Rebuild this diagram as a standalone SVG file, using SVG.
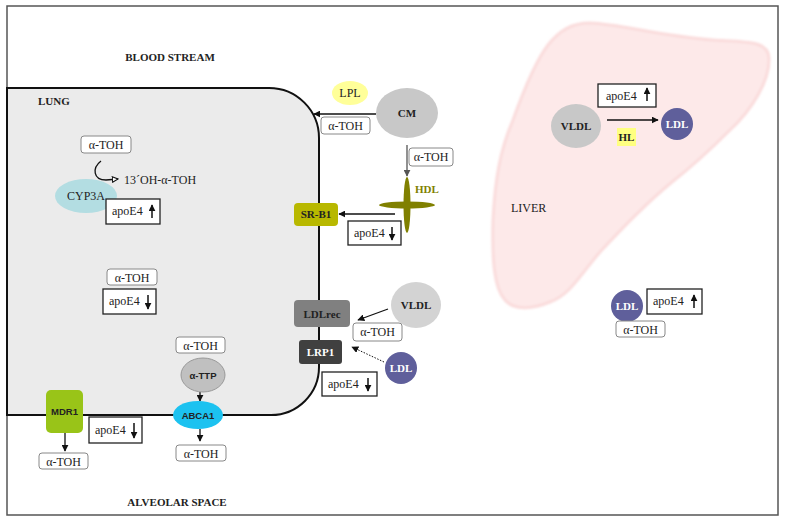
<svg xmlns="http://www.w3.org/2000/svg" width="785" height="520" viewBox="0 0 785 520">
<defs>
<style>
.t{font-family:"Liberation Serif","Times New Roman",serif;font-size:12px;fill:#222}
.b{font-family:"Liberation Serif","Times New Roman",serif;font-weight:bold;font-size:11px;fill:#222}
.s{font-family:"Liberation Sans",Arial,sans-serif;font-weight:bold;font-size:9.5px;fill:#222}
.tb{fill:#fff;stroke:#888;stroke-width:1;rx:3}
.ab{fill:#fff;stroke:#222;stroke-width:1.3}
.ln{stroke:#111;stroke-width:1.3;fill:none}
.up{stroke:#111;stroke-width:1.5;fill:none}
</style>
<marker id="ah" viewBox="0 0 10 10" refX="9" refY="5" markerWidth="7" markerHeight="7" orient="auto" markerUnits="userSpaceOnUse"><path d="M0,0 L10,5 L0,10 Z" fill="#111"/></marker>
<marker id="ahg" viewBox="0 0 10 10" refX="9" refY="5" markerWidth="7" markerHeight="7" orient="auto" markerUnits="userSpaceOnUse"><path d="M0,0 L10,5 L0,10 Z" fill="#555"/></marker>
<marker id="aho" viewBox="0 0 10 10" refX="9" refY="5" markerWidth="7" markerHeight="7" orient="auto" markerUnits="userSpaceOnUse"><path d="M1,1 L9,5 L1,9 Z" fill="#fff" stroke="#111" stroke-width="1.5"/></marker>
<marker id="sm" viewBox="0 0 10 10" refX="9" refY="5" markerWidth="7" markerHeight="7" orient="auto" markerUnits="userSpaceOnUse"><path d="M0,0 L10,5 L0,10 Z" fill="#111"/></marker>
<filter id="soft" x="-5%" y="-5%" width="110%" height="110%"><feGaussianBlur stdDeviation="1.2"/></filter>
</defs>

<rect x="0" y="0" width="785" height="520" fill="#fff"/>
<rect x="7" y="6" width="771" height="509" fill="#fff" stroke="#555" stroke-width="1.5"/>

<g id="liver">
<path d="M 590 23 C 620 24, 660 36, 713 40 C 745 42, 768 40, 769 58 C 770 80, 752 110, 730 130 C 710 150, 690 168, 672 182 C 650 200, 625 225, 600 252 C 580 275, 570 295, 550 302 C 535 308, 515 312, 505 300 C 494 288, 492 260, 493 220 C 495 180, 500 150, 513 120 C 522 95, 535 62, 548 45 C 560 30, 572 23, 590 23 Z" fill="#fde9e9" stroke="#fadcdc" stroke-width="3" filter="url(#soft)"/>
<text class="t" x="511" y="212">LIVER</text>
</g>

<g id="lung">
<path d="M 7 88 L 269 88 A 50 50 0 0 1 319 138 L 319 367 A 48 48 0 0 1 271 415 L 7 415 Z" fill="#ebebeb" stroke="#111" stroke-width="2"/>
<text class="b" x="38" y="105" font-size="12">LUNG</text>
</g>

<text class="b" x="170" y="61" text-anchor="middle" font-size="12">BLOOD STREAM</text>
<text class="b" x="177" y="506" text-anchor="middle" font-size="12">ALVEOLAR SPACE</text>

<g id="connectors">
<line class="ln" x1="376" y1="114" x2="314" y2="114" marker-end="url(#ah)"/>
<line x1="407" y1="145" x2="407" y2="176" stroke="#555" stroke-width="1.3" marker-end="url(#ahg)"/>
<line class="ln" x1="395" y1="214" x2="339" y2="214" marker-end="url(#ah)"/>
<line class="ln" x1="388" y1="309" x2="358" y2="320" marker-end="url(#ah)"/>
<line x1="384" y1="362" x2="352" y2="347" stroke="#111" stroke-width="1" stroke-dasharray="1.5 1.5" marker-end="url(#ah)"/>
<line class="ln" x1="200" y1="392" x2="200" y2="401" marker-end="url(#ah)"/>
<line class="ln" x1="200" y1="429" x2="200" y2="441" marker-end="url(#ah)"/>
<line class="ln" x1="65" y1="433" x2="65" y2="451" marker-end="url(#ah)"/>
<line class="ln" x1="607" y1="120" x2="658" y2="120" marker-end="url(#ah)"/>
<path class="ln" d="M 101 161 C 92 168, 93 180, 106 180 L 118 179" marker-end="url(#aho)"/>
</g>

<g id="lpl"><ellipse cx="350" cy="93" rx="18" ry="12" fill="#ffff99"/><text class="t" x="350" y="97" text-anchor="middle">LPL</text></g>
<g id="cm"><ellipse cx="407" cy="113" rx="31" ry="25" fill="#c8c8c8"/><text class="b" x="407" y="117" text-anchor="middle" font-size="12.5">CM</text></g>
<g id="atoh-cm"><rect class="tb" x="321" y="117" width="49" height="17"/><text class="t" x="345.5" y="130" text-anchor="middle">α-TOH</text></g>
<g id="atoh-hdl"><rect class="tb" x="409" y="148" width="44" height="18"/><text class="t" x="431" y="161" text-anchor="middle">α-TOH</text></g>
<g id="hdl">
<ellipse cx="407" cy="205" rx="28" ry="3.5" fill="#808000"/>
<ellipse cx="407" cy="205" rx="3.5" ry="28" fill="#808000"/>
<text class="b" x="415" y="193" style="fill:#808000" font-size="12">HDL</text>
</g>
<g id="srb1"><rect x="294" y="203" width="44" height="23" rx="4" fill="#b8b800"/><text class="b" x="316" y="218" text-anchor="middle">SR-B1</text></g>
<g id="apoe4-hdl"><rect class="ab" x="348" y="221" width="53" height="24"/><text class="t" x="354" y="237">apoE4</text><line class="up" x1="392" y1="227" x2="392" y2="240" marker-end="url(#sm)"/></g>

<g id="atoh-lung1"><rect class="tb" x="81" y="136" width="50" height="17"/><text class="t" x="106" y="149" text-anchor="middle">α-TOH</text></g>
<text class="t" x="124" y="184">13´OH-α-TOH</text>
<g id="cyp3a"><ellipse cx="86" cy="196" rx="31" ry="17" fill="#b3dde2"/><text class="t" x="86" y="200" text-anchor="middle">CYP3A</text></g>
<g id="apoe4-cyp"><rect class="ab" x="106" y="199" width="54" height="25"/><text class="t" x="112" y="215">apoE4</text><line class="up" x1="152" y1="218" x2="152" y2="205" marker-end="url(#sm)"/></g>

<g id="atoh-lung2"><rect class="tb" x="107" y="269" width="50" height="16"/><text class="t" x="132" y="281.5" text-anchor="middle">α-TOH</text></g>
<g id="apoe4-lung"><rect class="ab" x="103" y="289" width="53" height="25"/><text class="t" x="109" y="305">apoE4</text><line class="up" x1="148" y1="295" x2="148" y2="309" marker-end="url(#sm)"/></g>

<g id="atoh-lung3"><rect class="tb" x="176" y="337" width="49" height="16"/><text class="t" x="200.5" y="349.5" text-anchor="middle">α-TOH</text></g>
<g id="attp"><ellipse cx="203" cy="375" rx="22" ry="17" fill="#c0c0c0" stroke="#999" stroke-width="1"/><text class="s" x="203" y="379" text-anchor="middle">α-TTP</text></g>
<g id="abca1"><ellipse cx="198" cy="415" rx="25" ry="14" fill="#1cc2f0"/><text class="s" x="198" y="418.5" text-anchor="middle" font-size="8.5">ABCA1</text></g>
<g id="atoh-abca1"><rect class="tb" x="176" y="445" width="50" height="16"/><text class="t" x="201" y="457.5" text-anchor="middle">α-TOH</text></g>

<g id="mdr1"><rect x="46" y="390" width="37" height="43" rx="5" fill="#99c418"/><text class="s" x="64.5" y="415" text-anchor="middle" font-size="9">MDR1</text></g>
<g id="atoh-mdr1"><rect class="tb" x="39" y="453" width="49" height="16"/><text class="t" x="63.5" y="465.5" text-anchor="middle">α-TOH</text></g>
<g id="apoe4-mdr1"><rect class="ab" x="89" y="417" width="53" height="26"/><text class="t" x="95" y="434">apoE4</text><line class="up" x1="134" y1="423" x2="134" y2="438" marker-end="url(#sm)"/></g>

<g id="ldlrec"><rect x="294" y="300" width="56" height="27" rx="4" fill="#808080"/><text class="b" x="322" y="318" text-anchor="middle" font-size="12">LDLrec</text></g>
<g id="lrp1"><rect x="299" y="340" width="43" height="24" rx="3" fill="#404040"/><text class="b" x="320.5" y="356" text-anchor="middle" style="fill:#fff" font-size="12">LRP1</text></g>
<g id="vldl-blood"><ellipse cx="416" cy="305" rx="25" ry="23" fill="#d3d3d3"/><text class="b" x="416" y="309" text-anchor="middle" font-size="12">VLDL</text></g>
<g id="atoh-vldl"><rect class="tb" x="353" y="323" width="49" height="18"/><text class="t" x="377.5" y="336" text-anchor="middle">α-TOH</text></g>
<g id="ldl-blood"><circle cx="401" cy="368" r="16" fill="#5f5f9b"/><text class="b" x="401" y="372" text-anchor="middle" style="fill:#fff">LDL</text></g>
<g id="apoe4-ldlr"><rect class="ab" x="322" y="372" width="55" height="24"/><text class="t" x="328" y="388">apoE4</text><line class="up" x1="368" y1="378" x2="368" y2="391" marker-end="url(#sm)"/></g>

<g id="apoe4-liver"><rect class="ab" x="598" y="84" width="58" height="23"/><text class="t" x="606" y="100">apoE4</text><line class="up" x1="647" y1="101" x2="647" y2="88" marker-end="url(#sm)"/></g>
<g id="vldl-liver"><ellipse cx="576" cy="126" rx="25" ry="22" fill="#c8c8c8"/><text class="b" x="576" y="130" text-anchor="middle" font-size="12">VLDL</text></g>
<g id="ldl-liver"><circle cx="677" cy="124" r="16" fill="#5f5f9b"/><text class="b" x="677" y="128" text-anchor="middle" style="fill:#fff">LDL</text></g>
<g id="hl"><rect x="617" y="128" width="19" height="18" fill="#ffff80"/><text class="b" x="626.5" y="141" text-anchor="middle">HL</text></g>

<g id="ldl-out"><circle cx="627" cy="306" r="16" fill="#5f5f9b"/><text class="b" x="627" y="310" text-anchor="middle" style="fill:#fff">LDL</text></g>
<g id="apoe4-out"><rect class="ab" x="647" y="289" width="55" height="25"/><text class="t" x="653" y="305">apoE4</text><line class="up" x1="694" y1="308" x2="694" y2="295" marker-end="url(#sm)"/></g>
<g id="atoh-out"><rect class="tb" x="616" y="321" width="49" height="16"/><text class="t" x="640.5" y="333.5" text-anchor="middle">α-TOH</text></g>
</svg>
